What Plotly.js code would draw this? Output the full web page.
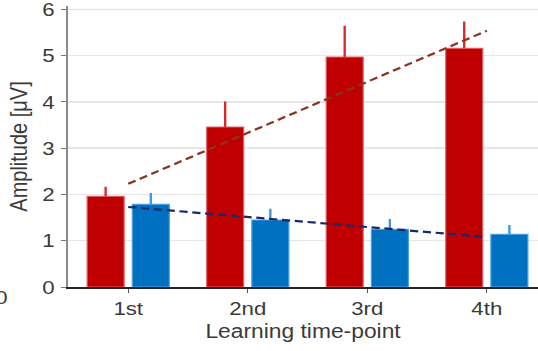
<!DOCTYPE html>
<html>
<head>
<meta charset="utf-8">
<script src="https://cdn.plot.ly/plotly-3.0.1.min.js"></script>
<style>
  html, body { margin: 0; padding: 0; background: #ffffff; overflow: hidden; }
  #frame { width: 538px; height: 351px; overflow: hidden; }
  /* the figure is laid out narrower and widened horizontally */
  #chart { width: 460px; height: 351px; transform: scaleX(1.17); transform-origin: 0 0; }
</style>
</head>
<body>
<div id="frame"><div id="chart"></div></div>
<script>
// Learning time-points on the x axis
const timePoints = ['1st', '2nd', '3rd', '4th'];

// Mean amplitudes (µV) and upper error bars for the two conditions
const redMeans = [1.96, 3.46, 4.97, 5.16];
const redErrors = [0.21, 0.55, 0.68, 0.58];
const blueMeans = [1.79, 1.45, 1.25, 1.14];
const blueErrors = [0.24, 0.24, 0.22, 0.20];

// Linear trend endpoints (first and last time-point)
const trendX = ['1st', '4th'];
const redTrend = [2.23, 5.54];
const blueTrend = [1.73, 1.08];

const yTicks = [0, 1, 2, 3, 4, 5, 6];

const zeros = timePoints.map(() => 0);
const fontFamily = 'Liberation Sans, Arial, Helvetica, sans-serif';
const textColor = '#3a3a3a';
const gridColor = '#e6e6e6';

const traces = [
  {
    type: 'bar',
    x: timePoints,
    y: redMeans,
    marker: { color: '#c00000', line: { color: '#e4646a', width: 1 } },
    error_y: {
      type: 'data', array: redErrors, arrayminus: zeros, symmetric: false,
      width: 0, thickness: 2, color: '#d42a2a'
    },
    showlegend: false,
    hoverinfo: 'skip'
  },
  {
    type: 'bar',
    x: timePoints,
    y: blueMeans,
    marker: { color: '#0070c0', line: { color: '#4aa3e6', width: 1 } },
    error_y: {
      type: 'data', array: blueErrors, arrayminus: zeros, symmetric: false,
      width: 0, thickness: 2, color: '#3898e0'
    },
    showlegend: false,
    hoverinfo: 'skip'
  },
  {
    type: 'scatter',
    mode: 'lines',
    x: trendX,
    y: redTrend,
    line: { color: '#8a3520', width: 2.2, dash: '7px,4px' },
    showlegend: false,
    hoverinfo: 'skip'
  },
  {
    type: 'scatter',
    mode: 'lines',
    x: trendX,
    y: blueTrend,
    line: { color: '#152a66', width: 2.2, dash: '7px,4px' },
    showlegend: false,
    hoverinfo: 'skip'
  }
];

const topTick = yTicks[yTicks.length - 1];

const layout = {
  width: 460,
  height: 351,
  margin: { l: 58, r: 0, t: 6, b: 64, pad: 0 },
  paper_bgcolor: '#ffffff',
  plot_bgcolor: '#ffffff',
  barmode: 'group',
  bargap: 0.244,
  bargroupgap: 0.18,
  font: { family: fontFamily, color: textColor },
  xaxis: {
    type: 'category',
    range: [-0.505, 3.43],
    showline: true,
    linecolor: '#262626',
    linewidth: 1.5,
    ticks: 'outside',
    ticklen: 4,
    tickwidth: 1,
    tickcolor: '#555555',
    showgrid: false,
    zeroline: false,
    tickfont: { size: 19, color: textColor },
    title: { text: 'Learning time-point', font: { size: 19.5, color: textColor }, standoff: 6 }
  },
  yaxis: {
    range: [0, 6.075],
    tickvals: yTicks,
    showline: true,
    linecolor: '#8a8a8a',
    linewidth: 1.5,
    ticks: 'outside',
    ticklen: 4,
    tickwidth: 1,
    tickcolor: '#777777',
    showgrid: true,
    gridcolor: gridColor,
    gridwidth: 1.5,
    zeroline: false,
    tickfont: { size: 19, color: textColor },
    ticklabelstandoff: 2,
    ticklabeloverflow: 'allow',
    title: { text: 'Amplitude [μV]', font: { size: 20, color: textColor }, standoff: 7 }
  },
  shapes: [
    {
      // top grid line, kept even though it sits close to the plot edge
      type: 'line', layer: 'below',
      xref: 'paper', x0: 0, x1: 1,
      yref: 'y', y0: topTick, y1: topTick,
      line: { color: gridColor, width: 1.5 }
    }
  ],
  annotations: [
    {
      // edge of the neighbouring panel's axis label
      xref: 'paper', yref: 'paper',
      x: -0.14, y: -0.036,
      xanchor: 'center', yanchor: 'middle',
      text: '0', showarrow: false,
      font: { size: 19, color: textColor, family: fontFamily }
    }
  ]
};

Plotly.newPlot('chart', traces, layout, { displayModeBar: false, staticPlot: true });
</script>
</body>
</html>
